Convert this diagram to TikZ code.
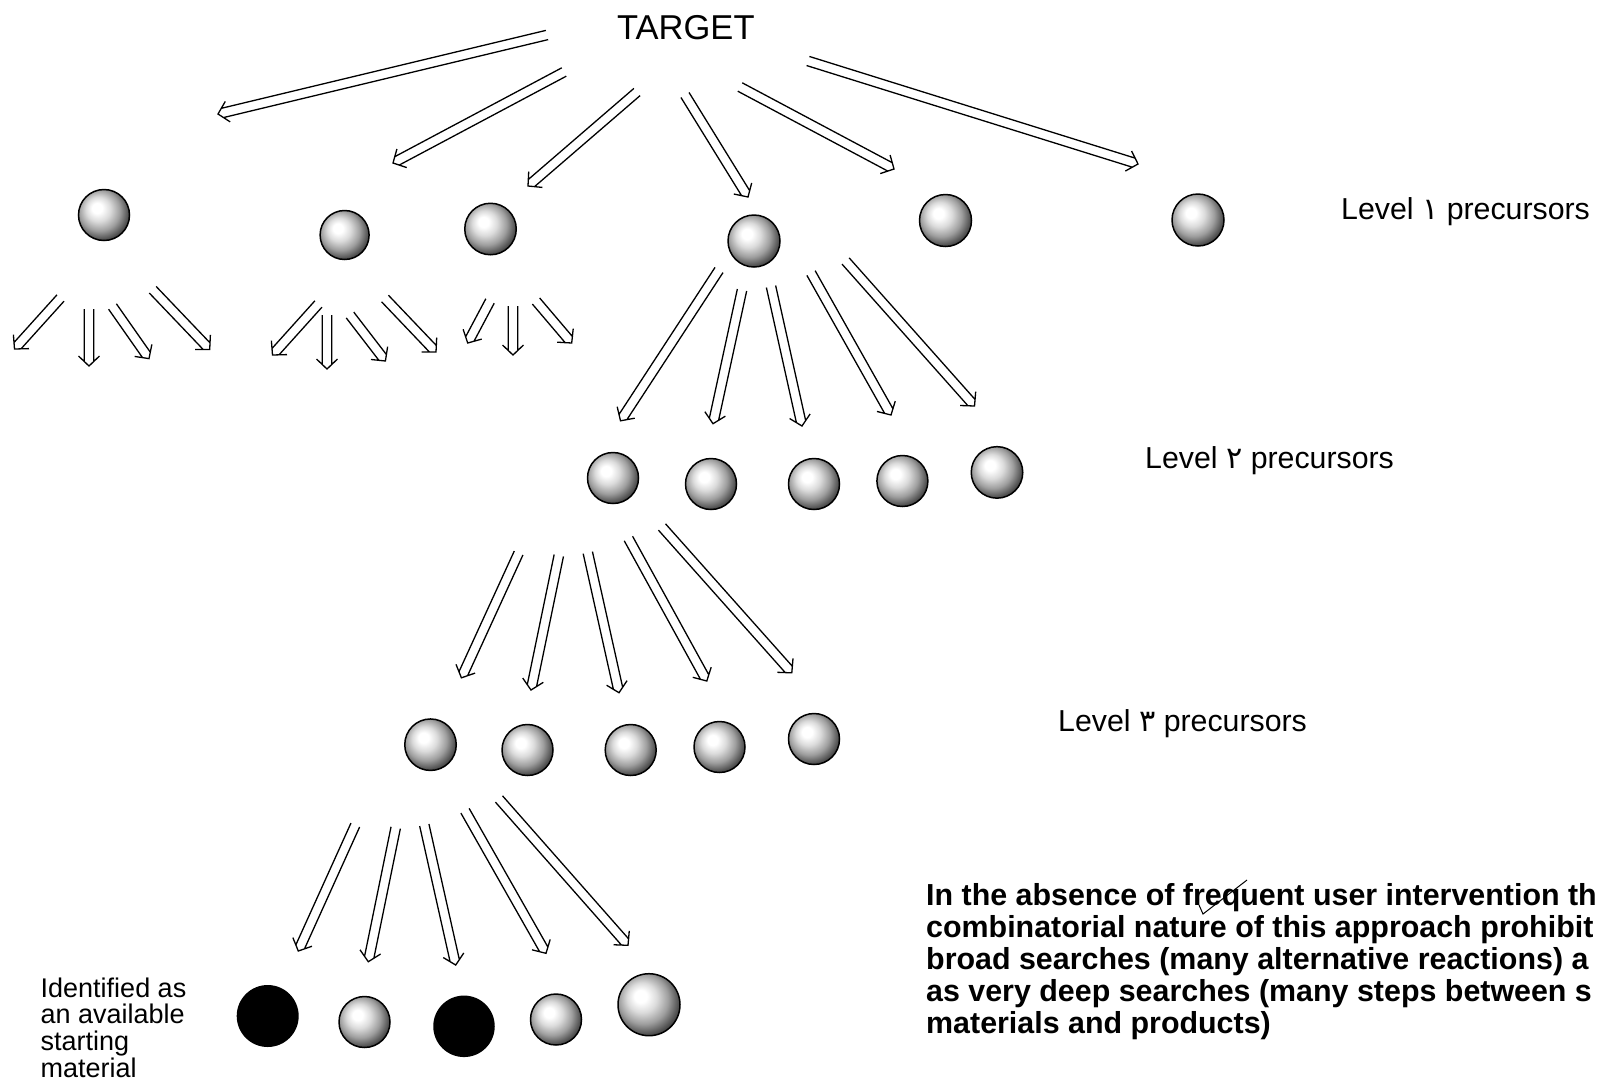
\documentclass[tikz,border=0pt]{standalone}
\usepackage{fontspec}
\setmainfont{Liberation Sans}
\newfontfamily\arabicfont[Script=Arabic]{DejaVu Sans}
\usetikzlibrary{calc}
\pgfdeclareradialshading{sphshade}{\pgfpoint{-7.5bp}{7.5bp}}{%
  color(0bp)=(white); color(5bp)=(white); color(12bp)=(black!14);
  color(20bp)=(black!38); color(27bp)=(black!68); color(33bp)=(black!90);
  color(50bp)=(black)}
\tikzset{
  sphere/.style={circle, draw=black, line width=1.5pt, inner sep=0pt,
    shading=sphshade, minimum size=#1},
  blackball/.style={circle, fill=black, inner sep=0pt, minimum size=#1},
  arrowline/.style={line width=1.3pt, line join=miter, line cap=butt},
  lvl/.style={anchor=base west, inner sep=0pt, font=\fontsize{30.3}{36}\selectfont},
  idtext/.style={anchor=base west, inner sep=0pt, font=\fontsize{27}{28}\selectfont},
  note/.style={anchor=base west, inner sep=0pt, font=\fontsize{30.4}{32}\selectfont\bfseries},
}
\newcommand\hollowarrow[2]{%
  \coordinate (hab) at ($(#2)!4.5pt!(#1)$);
  \coordinate (hah) at ($(#2)!10pt!(#1)$);
  \draw[arrowline] ($(#1)!4.75pt!90:(#2)$) -- ($(hab)!4.75pt!90:(#2)$)
    ($(#1)!4.75pt!-90:(#2)$) -- ($(hab)!4.75pt!-90:(#2)$)
    ($(hah)!10.5pt!90:(#2)$) -- (#2) -- ($(hah)!10.5pt!-90:(#2)$);}
\begin{document}
\begin{tikzpicture}[x=1pt, y=-1pt]
\useasboundingbox (0,0) rectangle (1600,1085);
\fill[white] (0,0) rectangle (1600,1085);
\clip (0,0) rectangle (1600,1085);

% texts
\node[anchor=base west, inner sep=0pt, font=\fontsize{34.5}{40}\selectfont] (target) at (617,39.4) {TARGET};
\node[lvl] (lev1) at (1341,219) {Level {\arabicfont ١} precursors};
\node[lvl] (lev2) at (1145,468.5) {Level {\arabicfont ٢} precursors};
\node[lvl] (lev3) at (1058,731.8) {Level {\arabicfont ٣} precursors};
\node[idtext] (id1) at (40.5,997) {Identified as};
\node[idtext] (id2) at (40.5,1023.7) {an available};
\node[idtext] (id3) at (40.5,1050.3) {starting};
\node[idtext] (id4) at (40.5,1077) {material};
\node[note] (n1) at (926,905) {In the absence of frequent user intervention th};
\node[note] (n2) at (926,937) {combinatorial nature of this approach prohibit};
\node[note] (n3) at (926,969) {broad searches (many alternative reactions) a};
\node[note] (n4) at (926,1001) {as very deep searches (many steps between s};
\node[note] (n5) at (926,1033) {materials and products)};
% stray pen mark over "frequent"
\coordinate (pm1) at (1199,905);
\coordinate (pm2) at (1203,914);
\coordinate (pm3) at (1247,880);
\draw[line width=1pt] (pm1) -- (pm2) -- (pm3);

% level 1
\node[sphere=51] (a1) at (104,215) {};
\node[sphere=49] (a2) at (344.6,235) {};
\node[sphere=51.5] (a3) at (490.5,229) {};
\node[sphere=52] (a4) at (754,241) {};
\node[sphere=52] (a5) at (945.5,220.5) {};
\node[sphere=52] (a6) at (1198,220) {};
% level 2
\node[sphere=51] (b1) at (613,478) {};
\node[sphere=51] (b2) at (711,484) {};
\node[sphere=51] (b3) at (814,484) {};
\node[sphere=51] (b4) at (902.4,481) {};
\node[sphere=51.5] (b5) at (997,472.4) {};
% level 3
\node[sphere=51.5] (c1) at (430.5,744.7) {};
\node[sphere=51] (c2) at (527.5,750) {};
\node[sphere=51] (c3) at (630.7,750) {};
\node[sphere=51] (c4) at (719.5,747) {};
\node[sphere=51] (c5) at (814,739) {};
% level 4
\node[blackball=62] (d1) at (267.7,1016) {};
\node[sphere=51] (d2) at (364.5,1022) {};
\node[blackball=61.5] (d3) at (464,1026.3) {};
\node[sphere=51] (d4) at (556,1019.5) {};
\node[sphere=62] (d5) at (649,1004.7) {};

% arrows: name/tail x/tail y/tip x/tip y
\foreach \n/\tx/\ty/\hx/\hy in {
  ta/547/35/218/114, tb/564/72/393/163, tc/637/92/528/186,
  td/685/95/748/197, te/740/87/894/169, tf/808/61/1138/164,
  aa/60.5/298/14.5/349, ab/89/309/89/366, ac/112.5/306.5/149/358.6, ad/152.7/289.7/209.7/349.4,
  ba/318.4/304/272.5/355, bb/327/315/327/369, bc/350/315/385.4/361, bd/385/298.5/436/352,
  ca/490/301/467.7/343, cb/513/306/513/355, cc/536/301/571.7/343,
  da/719/270/620.5/420.8, db/742/290/713/423.7, dc/771/286.5/802/426,
  dd/811/273/891/415, de/845.6/261/974.5/406,
  ea/518.6/553/461.4/677.8, eb/558.8/555.5/531/690, ec/587.8/552.6/619/692.7,
  ed/628.4/538.5/706.8/681, ee/662/527/791.8/672.8,
  ga/355.3/825/298.3/951, gb/395.7/827.7/368.3/961.7, gc/424.3/825/455.7/965,
  gd/465/810.7/546/953.3, ge/499/799/628/945.3}
{
  \coordinate (\n-tail) at (\tx,\ty);
  \coordinate (\n-tip) at (\hx,\hy);
  \hollowarrow{\n-tail}{\n-tip}
}
\end{tikzpicture}
\end{document}
